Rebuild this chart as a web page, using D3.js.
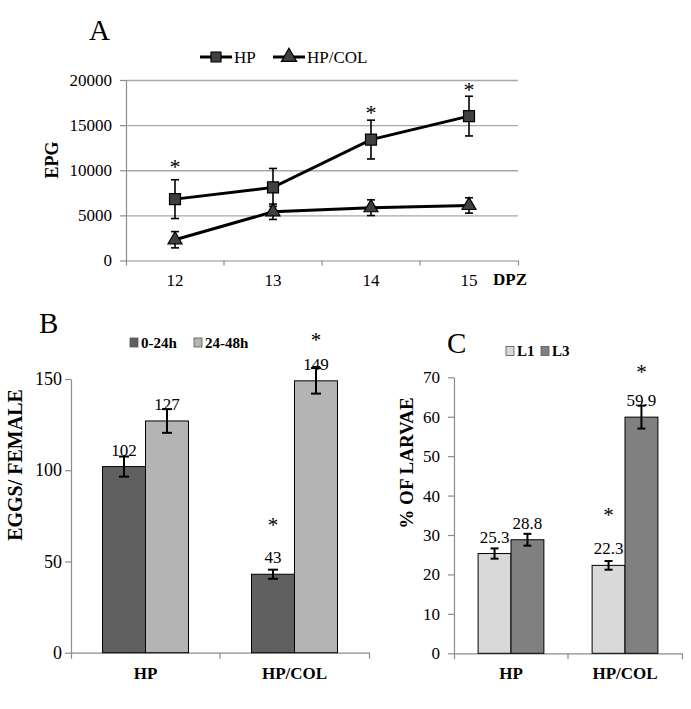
<!DOCTYPE html>
<html lang="en">
<head>
<meta charset="utf-8">
<title>EPG, eggs per female and larvae</title>
<script src="https://cdn.jsdelivr.net/npm/d3@7"></script>
<style>
  body { margin: 0; background: #fff; }
  text { font-family: "Liberation Serif", "Times New Roman", serif; fill: #000; }
</style>
</head>
<body>
<script>
// ---- panel A : eggs per gram by day post infection
const days = ["12", "13", "14", "15"];
const epgHP = [6800, 8100, 13400, 16000];
const epgHPErr = [2150, 2100, 2150, 2200];
const epgCOL = [2300, 5400, 5850, 6100];
const epgCOLErr = [900, 850, 870, 850];
const epgTicks = [0, 5000, 10000, 15000, 20000];
const starsA = [["12", 10800], ["14", 16700], ["15", 19250]];   // [day, EPG level of the asterisk]

// ---- panels B and C
const groups = ["HP", "HP/COL"];
const eggs024 = [102, 43];
const eggs024Err = [5.5, 2.5];
const eggs2448 = [127, 149];
const eggs2448Err = [6.5, 7];
const eggTicks = [0, 50, 100, 150];
const starsB = [["HP/COL", 0, 71.6], ["HP/COL", 1, 173]];       // [group, series, value level]

const larvaeL1 = [25.3, 22.3];
const larvaeL1Err = [1.3, 1.1];
const larvaeL3 = [28.8, 59.9];
const larvaeL3Err = [1.5, 2.9];
const larvaeTicks = [0, 10, 20, 30, 40, 50, 60, 70];
const starsC = [["HP/COL", 0, 35.9], ["HP/COL", 1, 72]];

const serif = '"Liberation Serif", "Times New Roman", serif';
const axisGrey = "#8c8c8c";

const svg = d3.select("body").append("svg")
    .attr("width", 691)
    .attr("height", 709)
    .style("background", "#fff");

function styleAxis(g, size, weight) {
    g.attr("font-family", serif).attr("font-size", size).attr("font-weight", weight || null);
    g.selectAll("line, path").attr("stroke", axisGrey).attr("stroke-width", 1.2);
    g.selectAll("text").attr("fill", "#000").style("font-family", serif);
}

function errorBar(g, x, yTop, yBot, cap, w) {
    g.append("line").attr("x1", x).attr("x2", x).attr("y1", yTop).attr("y2", yBot)
        .attr("stroke", "#000").attr("stroke-width", w);
    [yTop, yBot].forEach(yy => g.append("line")
        .attr("x1", x - cap / 2).attr("x2", x + cap / 2).attr("y1", yy).attr("y2", yy)
        .attr("stroke", "#000").attr("stroke-width", w));
}

function star(x, y, size) {
    svg.append("text").attr("x", x).attr("y", y + size * 0.48)
        .attr("text-anchor", "middle").attr("font-size", size).text("*");
}

function panelLetter(txt, x, y) {
    svg.append("text").attr("x", x).attr("y", y).attr("font-size", 29).text(txt);
}

function yTitle(txt, x, y, size) {
    svg.append("text")
        .attr("transform", `translate(${x},${y}) rotate(-90)`)
        .attr("text-anchor", "middle")
        .attr("font-size", size)
        .attr("font-weight", "bold")
        .text(txt);
}

// ================= A =================
panelLetter("A", 89, 40);

const xA = d3.scaleBand().domain(days).range([126, 518]);
const yA = d3.scaleLinear().domain([0, 20000]).range([260.5, 80]);
const cx = d => xA(d) + xA.bandwidth() / 2;

// gridlines
svg.append("g")
    .attr("transform", "translate(126,0)")
    .call(d3.axisLeft(yA).tickValues(epgTicks.slice(1)).tickSize(-392).tickFormat(""))
    .call(g => g.select(".domain").remove())
    .call(g => g.selectAll("line").attr("stroke", "#a8a8a8").attr("stroke-width", 1.3));

svg.append("g")
    .attr("transform", "translate(126,0)")
    .call(d3.axisLeft(yA).tickValues(epgTicks).tickFormat(d3.format("d"))
        .tickSize(6).tickSizeOuter(0).tickPadding(8))
    .call(g => styleAxis(g, 17));

const axA = svg.append("g")
    .attr("transform", `translate(0,${yA(0)})`)
    .call(d3.axisBottom(xA).tickSizeInner(0).tickSizeOuter(5).tickPadding(13))
    .call(g => styleAxis(g, 17));
axA.selectAll(".bound").data(days.slice(1)).join("line")
    .attr("x1", d => xA(d)).attr("x2", d => xA(d)).attr("y1", 0).attr("y2", 5)
    .attr("stroke", axisGrey).attr("stroke-width", 1.2);

svg.append("text").attr("x", 493).attr("y", 285)
    .attr("font-size", 17).attr("font-weight", "bold").text("DPZ");

yTitle("EPG", 58, 160, 18);

const lineA = d3.line().x((d, i) => cx(days[i])).y(d => yA(d));
const seriesA = [
    {name: "HP", vals: epgHP, err: epgHPErr, sym: d3.symbol(d3.symbolSquare, 121)},
    {name: "HP/COL", vals: epgCOL, err: epgCOLErr, sym: d3.symbol(d3.symbolTriangle, 85)}
];

seriesA.forEach(s => {
    svg.append("path").attr("d", lineA(s.vals))
        .attr("fill", "none").attr("stroke", "#000").attr("stroke-width", 3);
});
seriesA.forEach(s => {
    const g = svg.append("g");
    s.vals.forEach((v, i) => errorBar(g, cx(days[i]), yA(v + s.err[i]), yA(v - s.err[i]), 8, 1.6));
    svg.append("g").selectAll("path").data(s.vals).join("path")
        .attr("d", s.sym)
        .attr("transform", (d, i) => `translate(${cx(days[i])},${yA(d)})`)
        .attr("fill", "#404040").attr("stroke", "#000").attr("stroke-width", 1.2);
});

starsA.forEach(([d, v]) => star(cx(d), yA(v), 22));

// legend A
const legA = svg.append("g").attr("transform", "translate(0,57)");
[[200, seriesA[0]], [273, seriesA[1]]].forEach(([x0, s]) => {
    legA.append("line").attr("x1", x0).attr("x2", x0 + 32).attr("y1", 0).attr("y2", 0)
        .attr("stroke", "#000").attr("stroke-width", 3);
    legA.append("path").attr("d", d3.symbol(s.sym.type(), 100)())
        .attr("transform", `translate(${x0 + 16},0)`)
        .attr("fill", "#404040").attr("stroke", "#000").attr("stroke-width", 1.2);
    legA.append("text").attr("x", x0 + 34).attr("y", 6).attr("font-size", 17).text(s.name);
});

// ================= B and C =================
function barPanel(o) {
    const x = d3.scaleBand().domain(groups).range(o.xr);
    const y = d3.scaleLinear().domain([0, d3.max(o.ticks)]).range(o.yr);
    const bw = x.bandwidth();
    const inner = d3.scaleBand().domain(d3.range(o.series.length))
        .range([bw * 0.2115, bw * 0.7885]);

    svg.append("g")
        .attr("transform", `translate(${o.xr[0]},0)`)
        .call(d3.axisLeft(y).tickValues(o.ticks).tickSize(6).tickSizeOuter(0).tickPadding(o.pad))
        .call(g => styleAxis(g, o.tickFont));

    const ax = svg.append("g")
        .attr("transform", `translate(0,${y(0)})`)
        .call(d3.axisBottom(x).tickSizeInner(0).tickSizeOuter(6).tickPadding(14))
        .call(g => styleAxis(g, 17, "bold"));
    ax.selectAll(".bound").data(groups.slice(1)).join("line")
        .attr("x1", d => x(d)).attr("x2", d => x(d)).attr("y1", 0).attr("y2", 6)
        .attr("stroke", axisGrey).attr("stroke-width", 1.2);

    o.series.forEach((s, si) => {
        const g = svg.append("g");
        g.selectAll("rect").data(s.vals).join("rect")
            .attr("x", (d, i) => x(groups[i]) + inner(si))
            .attr("width", inner.bandwidth())
            .attr("y", d => y(d))
            .attr("height", d => y(0) - y(d))
            .attr("fill", s.color).attr("stroke", "#000").attr("stroke-width", 1);
        s.vals.forEach((v, i) => {
            const mx = x(groups[i]) + inner(si) + inner.bandwidth() / 2;
            errorBar(g, mx, y(v + s.err[i]), y(v - s.err[i]), o.cap, 2);
            g.append("text").attr("x", mx).attr("y", y(v) - 11)
                .attr("text-anchor", "middle").attr("font-size", 17).text(v);
        });
    });

    o.stars.forEach(([grp, si, v]) =>
        star(x(grp) + inner(si) + inner.bandwidth() / 2, y(v), 21));

    // legend
    o.series.forEach((s, si) => {
        const lx = o.legend[si];
        svg.append("rect").attr("x", lx).attr("y", o.legendY - 4.5).attr("width", 8).attr("height", 9)
            .attr("fill", s.color).attr("stroke", "#555").attr("stroke-width", 0.8);
        svg.append("text").attr("x", lx + 11).attr("y", o.legendY + 5)
            .attr("font-size", 15).attr("font-weight", "bold").text(s.name);
    });
}

panelLetter("B", 39, 333);
barPanel({
    xr: [71, 369], yr: [652.7, 379], ticks: eggTicks, pad: 3, tickFont: 18, cap: 10,
    series: [
        {name: "0-24h", vals: eggs024, err: eggs024Err, color: "#606060"},
        {name: "24-48h", vals: eggs2448, err: eggs2448Err, color: "#b4b4b4"}
    ],
    stars: starsB, legend: [130, 194], legendY: 342.5
});
yTitle("EGGS/ FEMALE", 22, 465, 20);

panelLetter("C", 447, 353);
barPanel({
    xr: [454, 682], yr: [653.3, 377.3], ticks: larvaeTicks, pad: 8, tickFont: 17, cap: 8,
    series: [
        {name: "L1", vals: larvaeL1, err: larvaeL1Err, color: "#d9d9d9"},
        {name: "L3", vals: larvaeL3, err: larvaeL3Err, color: "#808080"}
    ],
    stars: starsC, legend: [506, 541], legendY: 351
});
yTitle("% OF LARVAE", 413, 463, 19);
</script>
</body>
</html>
